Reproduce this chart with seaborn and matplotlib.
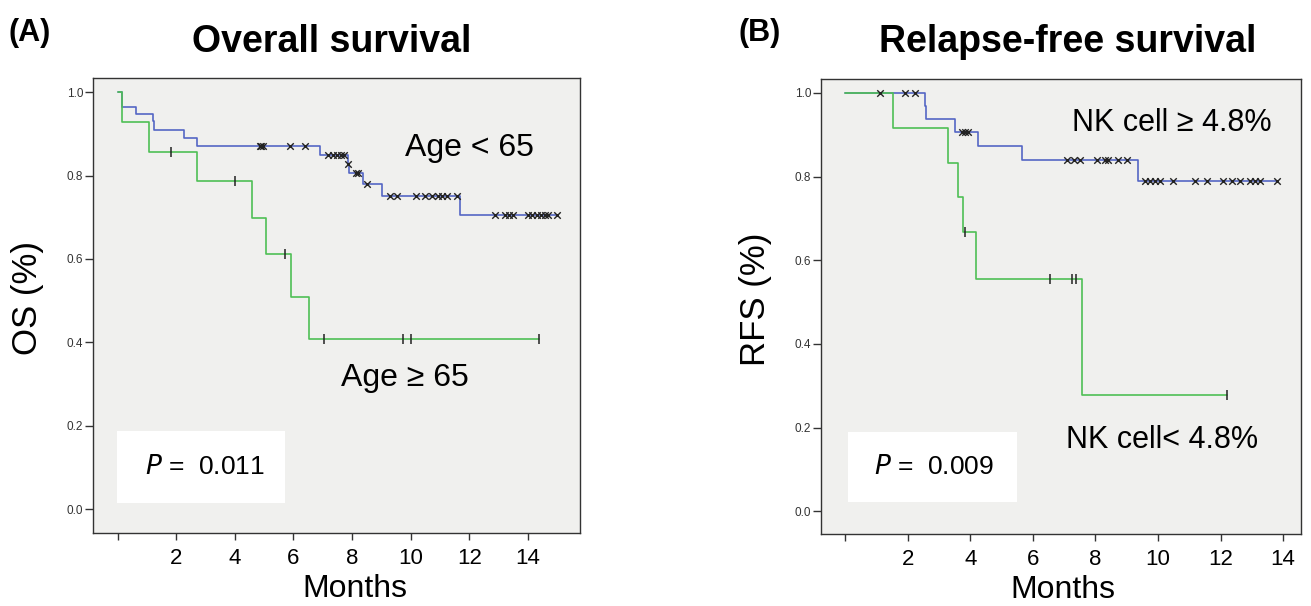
import numpy as np
import pandas as pd
import seaborn as sns
import matplotlib.pyplot as plt
from matplotlib.patches import Rectangle

# ---- data ----
# (A) overall survival
os_young_t = [0.15, 0.63, 1.2, 1.25, 2.27, 2.72, 6.9, 7.85, 7.9, 8.38, 9.03, 11.7]
os_young_s = [0.965, 0.947, 0.930, 0.909, 0.890, 0.871, 0.850, 0.828, 0.806, 0.780, 0.751, 0.706]
os_young_end = 14.98
os_young_cens = [4.85, 4.9, 4.95, 5.87, 6.4, 7.19, 7.34, 7.47, 7.61, 7.73, 7.87, 8.15, 8.22,
                 8.5, 9.29, 9.52, 10.2, 10.49, 10.72, 10.94, 11.08, 11.23, 11.59, 12.88,
                 13.22, 13.36, 13.5, 14.0, 14.15, 14.3, 14.45, 14.6, 14.7, 14.98]

os_old_t = [0.15, 1.08, 2.7, 4.6, 5.07, 5.91, 6.52]
os_old_s = [0.929, 0.857, 0.786, 0.698, 0.611, 0.509, 0.407]
os_old_end = 14.39
os_old_cens = [1.82, 3.99, 5.71, 7.05, 9.75, 10.0, 14.39]

# (B) relapse-free survival
rfs_high_t = [2.56, 2.6, 3.51, 4.26, 5.64, 9.35]
rfs_high_s = [0.969, 0.938, 0.907, 0.873, 0.840, 0.790]
rfs_high_end = 13.79
rfs_high_cens = [1.11, 1.92, 2.25, 3.73, 3.83, 3.94, 7.08, 7.3, 7.5, 8.04, 8.3, 8.4, 8.73,
                 9.0, 9.58, 9.74, 9.9, 10.06, 10.49, 11.18, 11.58, 12.09, 12.35, 12.62,
                 12.94, 13.1, 13.26, 13.79]

rfs_low_t = [1.54, 3.3, 3.61, 3.76, 4.19, 7.58]
rfs_low_s = [0.917, 0.833, 0.75, 0.667, 0.556, 0.278]
rfs_low_end = 12.21
rfs_low_cens = [3.83, 6.55, 7.24, 7.37, 12.21]

x_ticks = [0, 2, 4, 6, 8, 10, 12, 14]
x_ticklabels = ["", "2", "4", "6", "8", "10", "12", "14"]
y_ticks = [0.0, 0.2, 0.4, 0.6, 0.8, 1.0]

BLUE = "#5566c4"
GREEN = "#4fbf55"
BG = "#f0f0ee"


def step_frame(times, surv, end):
    t = [0.0] + list(times) + [end]
    s = [1.0] + list(surv) + [surv[-1]]
    return pd.DataFrame({"t": t, "s": s})


def surv_at(times, surv, pts):
    tt = np.array([0.0] + list(times))
    ss = np.array([1.0] + list(surv))
    idx = np.searchsorted(tt, np.array(pts), side="right") - 1
    return ss[idx]


def km(ax, times, surv, end, cens, color, marker):
    df = step_frame(times, surv, end)
    sns.lineplot(data=df, x="t", y="s", drawstyle="steps-post", estimator=None,
                 sort=False, color=color, lw=1.2, ax=ax)
    cy = surv_at(times, surv, cens)
    if marker == "x":
        sns.scatterplot(x=cens, y=cy, marker="x", color="#222222", s=22,
                        linewidth=1.0, ax=ax, zorder=3)
    else:
        sns.scatterplot(x=cens, y=cy, marker="|", color="#222222", s=55,
                        linewidth=1.1, ax=ax, zorder=3)


sns.set_style("white")
plt.rcParams["font.family"] = ["Liberation Sans", "DejaVu Sans"]
plt.rcParams["text.color"] = "black"
plt.rcParams["axes.labelcolor"] = "black"
plt.rcParams["xtick.color"] = "black"

W, H = 1311, 606
fig = plt.figure(figsize=(W / 100, H / 100), dpi=100)


def make_axes(left, right, top, bottom):
    return fig.add_axes([left / W, 1 - bottom / H, (right - left) / W, (bottom - top) / H])


axA = make_axes(93, 580, 78, 533)
axB = make_axes(821, 1301, 79, 534)

km(axA, os_young_t, os_young_s, os_young_end, os_young_cens, BLUE, "x")
km(axA, os_old_t, os_old_s, os_old_end, os_old_cens, GREEN, "|")
km(axB, rfs_high_t, rfs_high_s, rfs_high_end, rfs_high_cens, BLUE, "x")
km(axB, rfs_low_t, rfs_low_s, rfs_low_end, rfs_low_cens, GREEN, "|")

axA.set_xlim(-0.84, 15.78)
axA.set_ylim(-0.057, 1.034)
axB.set_xlim(-0.77, 14.57)
axB.set_ylim(-0.054, 1.033)

for ax, ylab, lx, mx in [(axA, "OS (%)", -0.1, 0.538), (axB, "RFS (%)", -0.102, 0.503)]:
    ax.set_facecolor(BG)
    for sp in ax.spines.values():
        sp.set_color("#333333")
        sp.set_linewidth(1.0)
    ax.set_xticks(x_ticks)
    ax.set_xticklabels(x_ticklabels, fontsize=16, color="black")
    ax.set_yticks(y_ticks)
    ax.set_yticklabels([f"{v:.1f}" for v in y_ticks], fontsize=8.5, color="#333333")
    ax.tick_params(axis="x", length=5, width=1.0, color="#333333", pad=6, bottom=True)
    ax.tick_params(axis="y", length=6, width=1.0, color="#333333", pad=1, left=True)
    ax.set_xlabel("Months", fontsize=23, color="black")
    ax.set_ylabel(ylab, fontsize=25, color="black")
    ax.xaxis.set_label_coords(mx, -0.09)
    ax.yaxis.set_label_coords(lx, 0.516)
    ax.grid(False)

# p-value boxes
axA.add_patch(Rectangle((0.049, 0.066), 0.345, 0.158, transform=axA.transAxes,
                        facecolor="white", edgecolor="none", zorder=1))
axA.text(0.23, 0.145, r"$\it{P}$ =  0.011", transform=axA.transAxes, fontsize=19,
         ha="center", va="center", zorder=2, color="black")
axB.add_patch(Rectangle((0.057, 0.07), 0.351, 0.154, transform=axB.transAxes,
                        facecolor="white", edgecolor="none", zorder=1))
axB.text(0.235, 0.147, r"$\it{P}$ =  0.009", transform=axB.transAxes, fontsize=19,
         ha="center", va="center", zorder=2, color="black")

# group labels
axA.text(12.0, 0.866, "Age < 65", fontsize=23, ha="center", va="center", color="black")
axA.text(9.8, 0.315, "Age \u2265 65", fontsize=23, ha="center", va="center", color="black")
axB.text(10.45, 0.928, "NK cell \u2265 4.8%", fontsize=22, ha="center", va="center", color="black")
axB.text(10.13, 0.171, "NK cell< 4.8%", fontsize=22, ha="center", va="center", color="black")

# titles and panel letters
fig.text(332 / W, 1 - 42 / H, "Overall survival", fontsize=27, fontweight="bold",
         ha="center", va="center")
fig.text(1068 / W, 1 - 42 / H, "Relapse-free survival", fontsize=27, fontweight="bold",
         ha="center", va="center")
fig.text(8 / W, 1 - 33 / H, "(A)", fontsize=22, fontweight="bold", ha="left", va="center")
fig.text(738 / W, 1 - 33 / H, "(B)", fontsize=22, fontweight="bold", ha="left", va="center")

fig.savefig("out.png", dpi=100)
